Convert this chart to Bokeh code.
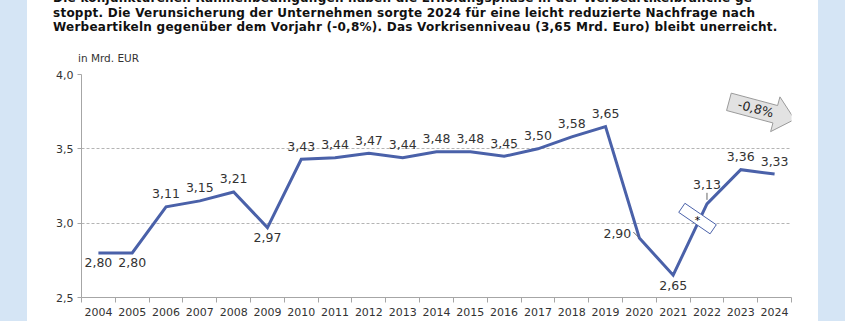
import math
from bokeh.plotting import figure
from bokeh.models import ColumnDataSource, FixedTicker, Div, Range1d
from bokeh.layouts import row, column
from bokeh.core.properties import value
from bokeh.embed import file_html
from bokeh.resources import INLINE

# ---------------- data ----------------
years = list(range(2004, 2025))
values = [2.80, 2.80, 3.11, 3.15, 3.21, 2.97, 3.43, 3.44, 3.47, 3.44, 3.48,
          3.48, 3.45, 3.50, 3.58, 3.65, 2.90, 2.65, 3.13, 3.36, 3.33]
placement = ["below", "below", "above", "above", "above", "below", "above", "above",
             "above", "above", "above", "above", "above", "above", "above", "above",
             "left", "below", "high", "above", "above"]
y_ticks = [2.5, 3.0, 3.5, 4.0]
change_label = "-0,8%"
unit_label = "in Mrd. EUR"
title_lines = [
    "Die konjunkturellen Rahmenbedingungen haben die Erholungsphase in der Werbeartikelbranche ge-",
    "stoppt. Die Verunsicherung der Unternehmen sorgte 2024 für eine leicht reduzierte Nachfrage nach",
    "Werbeartikeln gegenüber dem Vorjahr (-0,8%). Das Vorkrisenniveau (3,65 Mrd. Euro) bleibt unerreicht.",
]

def fmt(v, d=2):
    return f"{v:.{d}f}".replace(".", ",")

# ---------------- style ----------------
LINE = "#4a61a9"
TXT = "#333333"
GRID = "#b4b4b4"
AXIS = "#a6a6a6"
BAND = "#d5e5f5"
FONT = "DejaVu Sans"

PW = 791          # white panel width
HEAD = 66         # height of the header block
W, H = PW, 321 - HEAD
ML, MR, MT, MB = 54, 27, 8, 24
x0, x1 = years[0] - 0.5, years[-1] + 0.5
y0, y1 = 2.5, 4.0
pxx = (W - ML - MR) / (x1 - x0)
pxy = (H - MT - MB) / (y1 - y0)

p = figure(width=W, height=H, output_backend="svg", toolbar_location=None,
           x_range=Range1d(x0, x1), y_range=Range1d(y0, y1),
           min_border_left=ML, min_border_right=MR, min_border_top=MT,
           min_border_bottom=MB, background_fill_color="white",
           border_fill_color="white", margin=0)
p.outline_line_color = None

# axes
p.xaxis.ticker = FixedTicker(ticks=years, minor_ticks=[y - 0.5 for y in years] + [years[-1] + 0.5])
p.xaxis.major_label_overrides = {y: str(y) for y in years}
p.xaxis.major_tick_line_color = None
p.xaxis.minor_tick_line_color = AXIS
p.xaxis.minor_tick_out = 5
p.xaxis.minor_tick_in = 0
p.xaxis.axis_line_color = AXIS
p.xaxis.major_label_standoff = 4
p.xaxis.major_label_text_font = FONT
p.xaxis.major_label_text_font_size = "11px"
p.xaxis.major_label_text_color = TXT

p.yaxis.ticker = FixedTicker(ticks=y_ticks)
p.yaxis.major_label_overrides = {t: fmt(t, 1) for t in y_ticks}
p.yaxis.minor_tick_line_color = None
p.yaxis.major_tick_out = 4
p.yaxis.major_tick_in = 0
p.yaxis.major_tick_line_color = AXIS
p.yaxis.axis_line_color = AXIS
p.yaxis.major_label_standoff = 4
p.yaxis.major_label_text_font = FONT
p.yaxis.major_label_text_font_size = "11px"
p.yaxis.major_label_text_color = TXT

p.xgrid.grid_line_color = None
p.ygrid.ticker = FixedTicker(ticks=y_ticks[1:])
p.ygrid.grid_line_color = GRID
p.ygrid.grid_line_dash = "3 2"
p.ygrid.grid_line_width = 1

# data line
src = ColumnDataSource(dict(x=years, y=values))
p.line("x", "y", source=src, line_color=LINE, line_width=3, line_join="miter")

# value labels
offs = {"above": (0, -13), "below": (0, 10), "left": (-22, -5), "high": (0, -19)}
lab = ColumnDataSource(dict(
    x=years, y=values, t=[fmt(v) for v in values],
    xo=[offs[k][0] for k in placement], yo=[offs[k][1] for k in placement]))
p.text("x", "y", text="t", source=lab, x_offset="xo", y_offset="yo",
       text_align="center", text_baseline="middle", text_color=TXT,
       text_font=value(FONT), text_font_size="12.5px")

# leader lines
ix_l = placement.index("left")
ix_h = placement.index("high")
lx0 = [years[ix_l] - 6 / pxx, years[ix_h]]
ly0 = [values[ix_l] + 6 / pxy, values[ix_h] + 11 / pxy]
lx1 = [years[ix_l] - 1 / pxx, years[ix_h]]
ly1 = [values[ix_l] + 1 / pxy, values[ix_h] + 4 / pxy]
p.segment(lx0, ly0, lx1, ly1, line_color="#666666", line_width=1)

# axis break symbol between 2021 and 2022
bx = years[ix_h] - 0.28
by = 3.031
p.rect([bx], [by], width=38, height=11, width_units="screen", height_units="screen",
       angle=-0.6, fill_color="white", line_color=LINE, line_width=1)
p.text([bx], [by], text=["*"], text_align="center", text_baseline="middle",
       text_color="black", text_font=value(FONT), text_font_size="11px", y_offset=2)

# change arrow
cx, cy = 2023.62, 3.757
th = math.radians(-15)
shape = [(-34, 9), (14, 9), (14, 18), (34, 0), (14, -18), (14, -9), (-34, -9)]
ax = [cx + (u * math.cos(th) - v * math.sin(th)) / pxx for u, v in shape]
ay = [cy + (u * math.sin(th) + v * math.cos(th)) / pxy for u, v in shape]
p.patch(ax, ay, fill_color="#e2e2e2", line_color="#9a9a9a", line_width=1)
p.text([cx - 6 / pxx], [cy + 2 / pxy], text=[change_label], angle=th,
       text_align="center", text_baseline="middle", text_color="#222222",
       text_font=value(FONT), text_font_size="12.5px")

# header (title + unit) as HTML text
title_html = "<br>".join(title_lines)
header_html = (
    f'<div style="margin-top:-9px; padding-left:26px; white-space:nowrap; '
    f'font-family:\'{FONT}\'; font-weight:bold; font-size:12px; letter-spacing:0.25px; '
    f'line-height:14.5px; color:#111111;">{title_html}</div>'
    f'<div style="margin-top:16px; padding-left:51px; white-space:nowrap; '
    f'font-family:\'{FONT}\'; font-size:10.5px; line-height:14px; color:{TXT};">'
    f'{unit_label}</div>'
)
header = Div(text=header_html, width=PW, height=HEAD, margin=0,
             styles={"background-color": "white", "overflow": "hidden"})

left = Div(text="", width=27, height=321, margin=0, styles={"background-color": BAND})
right = Div(text="", width=27, height=321, margin=0, styles={"background-color": BAND})
layout = row(left, column(header, p, spacing=0, margin=0), right, spacing=0, margin=0)

open("out.html", "w").write(file_html(layout, INLINE))
